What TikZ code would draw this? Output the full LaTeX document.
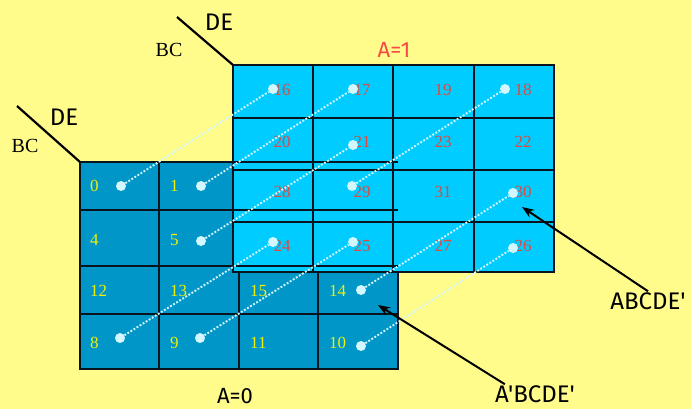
\documentclass[tikz,border=0pt]{standalone}
\usepackage{fontspec}
\setmainfont{Liberation Serif}
\newfontfamily\comicf{Fira Sans}
\usetikzlibrary{arrows.meta}
\definecolor{bgY}{RGB}{255,252,140}
\definecolor{bgP}{RGB}{255,255,228}
\definecolor{azero}{RGB}{0,150,200}
\definecolor{aone}{RGB}{0,204,255}
\definecolor{numY}{RGB}{240,240,10}
\definecolor{numR}{RGB}{225,72,62}
\definecolor{labR}{RGB}{248,72,72}
\definecolor{dotC}{RGB}{210,247,255}
\definecolor{gridK}{RGB}{10,20,30}
\tikzset{
  gline/.style={gridK, line width=1.6pt},
  gborder/.style={gridK, line width=2.6pt},
  ynum/.style={anchor=west, inner sep=0pt, text=numY, font=\fontsize{17}{17}\selectfont},
  rnum/.style={inner sep=0pt, text=numR, font=\fontsize{17}{17}\selectfont},
  pdot/.style={circle, fill=dotC, inner sep=0pt, minimum size=10pt},
  dotline/.style={dotC, line width=1.9pt, dash pattern=on 1.9pt off 1.7pt},
  biglab/.style={inner sep=1pt, font=\comicf\fontsize{24}{24}\selectfont},
  bclab/.style={inner sep=0pt, font=\fontsize{20}{20}\selectfont},
  pointer/.style={black, line width=2pt, -{Stealth[length=12pt,width=9pt]}}
}
\begin{document}
\begin{tikzpicture}[x=1pt,y=-1pt]
\useasboundingbox (0,0) rectangle (691,408);
\shade[top color=bgY, middle color=bgP, bottom color=bgY, shading angle=31] (0,0) rectangle (691,408);

% A=0 map
\fill[azero] (80,162) rectangle (398,369);
\foreach \x in {159,239,318} \draw[gline] (\x,162) -- (\x,369);
\foreach \y in {210,266,314} \draw[gline] (80,\y) -- (398,\y);
\draw[gborder] (80,162) rectangle (398,369);

% A=1 map
\fill[aone] (233,65) rectangle (554,272);
\foreach \x in {313,393,474} \draw[gline] (\x,65) -- (\x,272);
\foreach \y in {118,170,222} \draw[gline] (233,\y) -- (554,\y);
\foreach \y in {162,210,266} \draw[gline] (233,\y) -- (398,\y);
\draw[gborder] (233,65) rectangle (554,272);

% corner labels
\coordinate (c1) at (177,17);
\coordinate (c2) at (233,65);
\draw[black, line width=2.2pt] (c1) -- (c2);
\node[biglab] (deU) at (219,22) {DE};
\node[bclab] (bcU) at (169,50) {BC};
\coordinate (c3) at (17,106);
\coordinate (c4) at (80,162);
\draw[black, line width=2.2pt] (c3) -- (c4);
\node[biglab] (deL) at (64,117) {DE};
\node[bclab] (bcL) at (25,146) {BC};

\node[biglab, text=labR, font=\comicf\fontsize{22}{22}\selectfont] (a1) at (394,50) {A=1};
\node[biglab, font=\comicf\fontsize{22}{22}\selectfont] (a0) at (235,396) {A=0};

% A=0 numbers
\node[ynum] (n0) at (90,186) {0};
\node[ynum] (n1) at (170,186) {1};
\node[ynum] (n4) at (90,240) {4};
\node[ynum] (n5) at (170,240) {5};
\node[ynum] (n12) at (90,291) {12};
\node[ynum] (n13) at (170,291) {13};
\node[ynum] (n15) at (250,291) {15};
\node[ynum] (n14) at (329,291) {14};
\node[ynum] (n8) at (90,343) {8};
\node[ynum] (n9) at (170,343) {9};
\node[ynum] (n11) at (250,343) {11};
\node[ynum] (n10) at (329,343) {10};

% A=1 numbers
\node[rnum] (n16) at (282,90) {16};
\node[rnum] (n17) at (362,90) {17};
\node[rnum] (n19) at (443,90) {19};
\node[rnum] (n18) at (523,90) {18};
\node[rnum] (n20) at (282,142) {20};
\node[rnum] (n21) at (362,142) {21};
\node[rnum] (n23) at (443,142) {23};
\node[rnum] (n22) at (523,142) {22};
\node[rnum] (n28) at (282,192) {28};
\node[rnum] (n29) at (362,192) {29};
\node[rnum] (n31) at (443,192) {31};
\node[rnum] (n30) at (523,192) {30};
\node[rnum] (n24) at (282,246) {24};
\node[rnum] (n25) at (362,246) {25};
\node[rnum] (n27) at (443,246) {27};
\node[rnum] (n26) at (523,246) {26};

% dots
\node[pdot] (d0) at (121,186) {};
\node[pdot] (d1) at (201,186) {};
\node[pdot] (d5) at (201,241) {};
\node[pdot] (d8) at (120,338) {};
\node[pdot] (d9) at (200,338) {};
\node[pdot] (d14) at (361,290) {};
\node[pdot] (d10) at (361,346) {};
\node[pdot] (d16) at (273,89) {};
\node[pdot] (d17) at (353,89) {};
\node[pdot] (d18) at (505,89) {};
\node[pdot] (d21) at (353,145) {};
\node[pdot] (d29) at (352,186) {};
\node[pdot] (d30) at (513,193) {};
\node[pdot] (d24) at (273,242) {};
\node[pdot] (d25) at (353,242) {};
\node[pdot] (d26) at (513,248) {};

% dotted connectors
\draw[dotline] (d0) -- (d16);
\draw[dotline] (d1) -- (d17);
\draw[dotline] (d5) -- (d21);
\draw[dotline] (d8) -- (d24);
\draw[dotline] (d9) -- (d25);
\draw[dotline] (d14) -- (d30);
\draw[dotline] (d10) -- (d26);
\draw[dotline] (d29) -- (d18);

% pointer labels
\node[biglab] (labA) at (648,301) {ABCDE'};
\node[biglab] (labB) at (535,394) {A'BCDE'};
\coordinate (tA) at (522,207);
\coordinate (tB) at (378,305);
\draw[pointer] (labA.north) -- (tA);
\draw[pointer] ([xshift=11pt]labB.north west) -- (tB);
\end{tikzpicture}
\end{document}
